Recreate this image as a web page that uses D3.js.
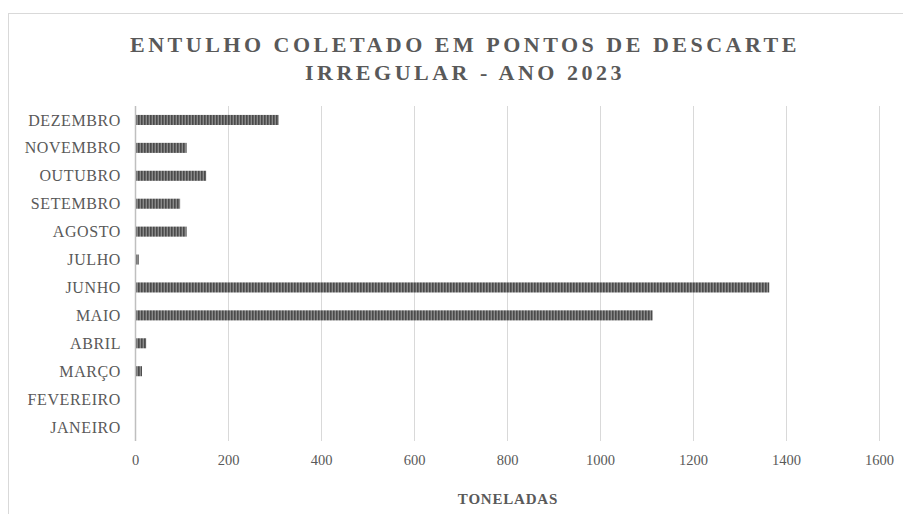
<!DOCTYPE html>
<html lang="pt-BR">
<head>
	<meta charset="UTF-8">
	<title>Entulho coletado 2023</title>
	<script src="https://unpkg.com/d3@7/dist/d3.min.js"></script>
	<style>
		body{ margin:0; background:#fff; }
		text{ font-family:"Liberation Serif", "Times New Roman", serif; fill:#595959; }
		.grid line{ stroke:#d9d9d9; stroke-width:1; shape-rendering:crispEdges; }
		.title{ font-size:22px; font-weight:bold; letter-spacing:3.5px; }
		.cat{ font-size:16px; letter-spacing:0.6px; }
		.tick text{ font-size:14.5px; }
		.axTitle{ font-size:15px; font-weight:bold; letter-spacing:0.8px; }
	</style>
</head>
<body>
	<div id="main"></div>
	<script>
		// dados
		var months = ["JANEIRO","FEVEREIRO","MARÇO","ABRIL","MAIO","JUNHO","JULHO","AGOSTO","SETEMBRO","OUTUBRO","NOVEMBRO","DEZEMBRO"];
		var tons = [0, 0, 15, 24, 1113, 1364, 8, 111, 97, 153, 111, 309];
		var xTicks = [0, 200, 400, 600, 800, 1000, 1200, 1400, 1600];
		var titleLines = ["ENTULHO COLETADO EM PONTOS DE DESCARTE", "IRREGULAR - ANO 2023"];

		var width = 903, height = 514,
			margin = {left:135, right:24, top:106, bottom:73};

		var svg = d3.select("#main").append("svg")
			.attr("width", width)
			.attr("height", height);

		// pattern de listras verticais
		var pat = svg.append("defs").append("pattern")
			.attr("id", "stripes")
			.attr("patternUnits", "userSpaceOnUse")
			.attr("width", 3)
			.attr("height", 10);
		pat.append("rect").attr("width", 3).attr("height", 10).attr("fill", "#8a8a8a");
		pat.append("rect").attr("width", 1.6).attr("height", 10).attr("fill", "#4a4a4a");

		// borda do gráfico
		svg.append("rect")
			.attr("x", 8.5).attr("y", 13.5)
			.attr("width", 920).attr("height", 520)
			.attr("fill", "none")
			.attr("stroke", "#d9d9d9");

		var x = d3.scaleLinear()
			.domain([0, 1600])
			.range([margin.left, width - margin.right]);

		var y = d3.scaleBand()
			.domain(months.slice().reverse())
			.range([margin.top, height - margin.bottom])
			.paddingInner(0.64)
			.paddingOuter(0.32);

		// linhas de grade
		svg.append("g").attr("class", "grid")
			.selectAll("line")
			.data(xTicks.slice(1))
			.enter().append("line")
			.attr("x1", function(d){ return Math.round(x(d)) + 0.5; })
			.attr("x2", function(d){ return Math.round(x(d)) + 0.5; })
			.attr("y1", margin.top)
			.attr("y2", height - margin.bottom);

		// eixo x
		var xAx = d3.axisBottom(x).tickValues(xTicks).tickSize(0).tickPadding(14).tickFormat(d3.format("d"));
		var xAxis = svg.append("g")
			.attr("transform", "translate(0," + (height - margin.bottom) + ")")
			.call(xAx);
		xAxis.select(".domain").remove();
		xAxis.selectAll("text").attr("fill", "#595959").style("font-family", "Liberation Serif, serif");

		// barras
		svg.selectAll("rect.bar")
			.data(tons)
			.enter().append("rect")
			.attr("class", "bar")
			.attr("x", x(0))
			.attr("y", function(d, i){ return y(months[i]); })
			.attr("width", function(d){ return x(d) - x(0); })
			.attr("height", y.bandwidth())
			.attr("fill", "url(#stripes)");

		// eixo vertical (linha)
		svg.append("line")
			.attr("x1", Math.round(x(0)) + 0.5)
			.attr("x2", Math.round(x(0)) + 0.5)
			.attr("y1", margin.top)
			.attr("y2", height - margin.bottom)
			.attr("stroke", "#bfbfbf")
			.attr("stroke-width", 1.5);

		// rótulos das categorias
		svg.selectAll("text.cat")
			.data(months)
			.enter().append("text")
			.attr("class", "cat")
			.attr("x", 121)
			.attr("y", function(d){ return y(d) + y.bandwidth() / 2; })
			.attr("dy", "0.35em")
			.attr("text-anchor", "end")
			.text(function(d){ return d; });

		// título
		svg.selectAll("text.title")
			.data(titleLines)
			.enter().append("text")
			.attr("class", "title")
			.attr("x", 465)
			.attr("y", function(d, i){ return 52 + i * 28; })
			.attr("text-anchor", "middle")
			.text(function(d){ return d; });

		svg.append("text")
			.attr("class", "axTitle")
			.attr("x", 508)
			.attr("y", 504)
			.attr("text-anchor", "middle")
			.text("TONELADAS");
	</script>
</body>
</html>
